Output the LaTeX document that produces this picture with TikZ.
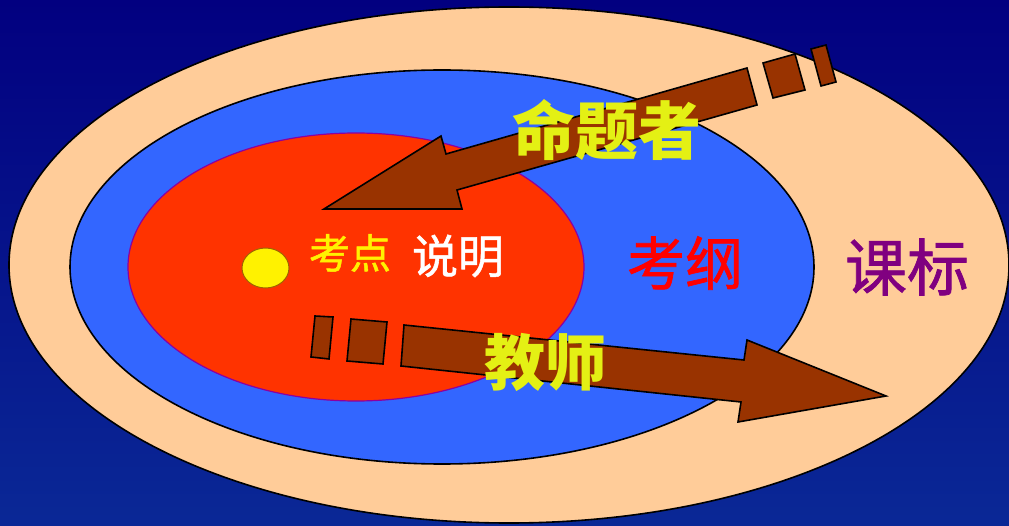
\documentclass[tikz,border=0pt]{standalone}
\usepackage{fontspec}
\newfontfamily\cjk{Noto Sans CJK SC}
\newfontfamily\cjkmed[FakeBold=1.2]{Noto Sans CJK SC}
\definecolor{bgtop}{RGB}{2,0,128}
\definecolor{bgbot}{RGB}{10,40,150}
\definecolor{peach}{RGB}{255,204,153}
\definecolor{midblue}{RGB}{51,102,255}
\definecolor{redfill}{RGB}{255,51,0}
\definecolor{redline}{RGB}{140,0,160}
\definecolor{brownfill}{RGB}{153,51,0}
\definecolor{lime}{RGB}{228,240,20}
\definecolor{purp}{RGB}{128,0,128}
\definecolor{dotline}{RGB}{160,100,0}
\tikzset{
  ring/.style={draw=black, line width=1.6pt},
  brownpart/.style={fill=brownfill, draw=black, line width=1.6pt, line join=miter},
  lbl/.style={inner sep=0pt},
}
\begin{document}
\begin{tikzpicture}[x=1pt,y=-1pt]
\useasboundingbox (0,0) rectangle (1009,526);
\shade[top color=bgtop,bottom color=bgbot] (0,0) rectangle (1009,526);
% ellipses
\draw[ring, fill=peach] (509,265) ellipse [x radius=500, y radius=258];
\draw[ring, fill=midblue] (442,267) ellipse [x radius=372, y radius=197];
\draw[fill=redfill, draw=redline, line width=1.2pt] (356,267) ellipse [x radius=228, y radius=134];
\draw[fill=yellow, draw=dotline, line width=1pt] (265.5,268) ellipse [x radius=23.5, y radius=20];
% arrow from top right (命题者)
\draw[brownpart] (747,68) -- (446,154) -- (441,136) -- (324,209) -- (462,209) -- (457,190) -- (757,105) -- cycle;
\draw[brownpart] (763,63) -- (795,54) -- (805,90) -- (773,98) -- cycle;
\draw[brownpart] (811,49) -- (826,45) -- (836,82) -- (821,86) -- cycle;
% arrow to the right (教师)
\draw[brownpart] (404,325) -- (744,360) -- (747,340) -- (886,396) -- (738,422) -- (741,402) -- (401,366) -- cycle;
\draw[brownpart] (315,316) -- (333,317) -- (329,359) -- (311,357) -- cycle;
\draw[brownpart] (351,319) -- (387,322) -- (383,364) -- (347,361) -- cycle;
% labels
\node[lbl, text=lime, font=\cjk\bfseries\fontsize{63}{63}\selectfont] (mingti) at (607,130) {命题者};
\node[lbl, text=lime, font=\cjk\bfseries\fontsize{61}{61}\selectfont] (jiaoshi) at (545,362) {教师};
\node[lbl, text=yellow, font=\cjkmed\fontsize{41}{41}\selectfont] (kaodian) at (350,253) {考点};
\node[lbl, text=white, font=\cjkmed\fontsize{46}{46}\selectfont] (shuoming) at (458,256) {说明};
\node[lbl, text=red, font=\cjkmed\fontsize{58}{58}\selectfont] (kaogang) at (685,263) {考纲};
\node[lbl, text=purp, font=\cjkmed\fontsize{62}{62}\selectfont] (kebiao) at (907,267) {课标};
\end{tikzpicture}
\end{document}
